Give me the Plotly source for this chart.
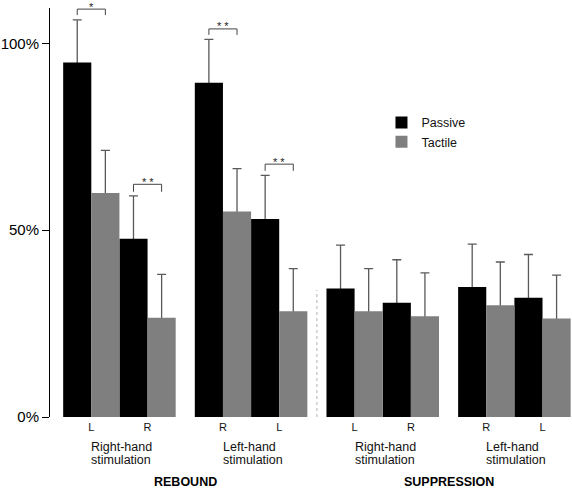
import plotly.graph_objects as go

# ---- data ----
side_labels = ["L", "R", "R", "L", "L", "R", "R", "L"]
group_line1 = ["Right-hand", "Left-hand", "Right-hand", "Left-hand"]
group_line2 = ["stimulation", "stimulation", "stimulation", "stimulation"]
section_labels = ["REBOUND", "SUPPRESSION"]

passive = [94.9, 47.7, 89.5, 53.0, 34.4, 30.6, 34.8, 31.9]
passive_err = [11.4, 11.5, 11.6, 11.7, 11.6, 11.5, 11.5, 11.6]
tactile = [60.0, 26.6, 55.0, 28.3, 28.3, 27.0, 29.9, 26.4]
tactile_err = [11.4, 11.6, 11.5, 11.4, 11.4, 11.6, 11.6, 11.6]

# significance brackets: (pair index, leg bottom %, bracket top %, label)
sig_pairs = [0, 1, 2, 3]
sig_low = [107.6, 60.3, 102.3, 65.9]
sig_high = [109.2, 62.3, 103.9, 67.7]
sig_text = ["*", "* *", "* *", "* *"]

separator_top = 34.0

y_ticks = [0, 50, 100]
y_tick_text = ["0%", "50%", "100%"]

# ---- layout helpers ----
GAP = 0.34
pair_x = [g * (2 + GAP) + k for g in range(4) for k in range(2)]
group_center = [g * (2 + GAP) + 0.5 for g in range(4)]

FONT = "Arial, Liberation Sans, sans-serif"
ERR_COLOR = "#5a5a5a"
BAR_W = 0.5

fig = go.Figure()
# error-bar carriers (drawn first, bars overlay their lower part)
for vals, errs, off in [(passive, passive_err, -BAR_W), (tactile, tactile_err, 0.0)]:
    fig.add_trace(go.Bar(
        x=pair_x, y=vals, width=BAR_W, offset=off, showlegend=False, hoverinfo="skip",
        marker=dict(color="rgba(0,0,0,0)", line=dict(width=0)),
        error_y=dict(type="data", symmetric=False, array=errs, arrayminus=[0.6] * len(vals),
                     color=ERR_COLOR, thickness=1.3, width=4.5),
    ))
# visible bars
fig.add_trace(go.Bar(x=pair_x, y=passive, width=BAR_W, offset=-BAR_W, name="Passive",
                     marker=dict(color="#000000", line=dict(width=0))))
fig.add_trace(go.Bar(x=pair_x, y=tactile, width=BAR_W, offset=0.0, name="Tactile",
                     marker=dict(color="#7f7f7f", line=dict(width=0))))

shapes = []
annotations = []
for i, p in enumerate(sig_pairs):
    x0 = pair_x[p] - BAR_W / 2
    x1 = pair_x[p] + BAR_W / 2
    shapes.append(dict(type="path", xref="x", yref="y",
                       path=f"M {x0},{sig_low[i]} L {x0},{sig_high[i]} L {x1},{sig_high[i]} L {x1},{sig_low[i]}",
                       line=dict(color="#444444", width=1)))
    annotations.append(dict(x=pair_x[p], y=sig_high[i], xref="x", yref="y", text=sig_text[i],
                            showarrow=False, yanchor="middle", yshift=2.5,
                            font=dict(family=FONT, size=11, color="#222222")))

# dotted separator between rebound and suppression
sep_x = (pair_x[3] + 0.5 + pair_x[4] - 0.5) / 2
shapes.append(dict(type="line", xref="x", yref="y", x0=sep_x, x1=sep_x, y0=0, y1=separator_top,
                   line=dict(color="#b0b0b0", width=1, dash="dot")))

for g in range(4):
    annotations.append(dict(x=group_center[g], y=0, xref="x", yref="paper", text=group_line1[g],
                            showarrow=False, xanchor="left", yanchor="middle", xshift=-30, yshift=-30,
                            font=dict(family=FONT, size=12.5, color="#111111")))
    annotations.append(dict(x=group_center[g], y=0, xref="x", yref="paper", text=group_line2[g],
                            showarrow=False, xanchor="left", yanchor="middle", xshift=-30, yshift=-42.6,
                            font=dict(family=FONT, size=12.5, color="#111111")))

sec_x = [((pair_x[0] - 0.5) + (pair_x[3] + 0.5)) / 2, ((pair_x[4] - 0.5) + (pair_x[7] + 0.5)) / 2]
for s in range(2):
    annotations.append(dict(x=sec_x[s], y=0, xref="x", yref="paper", text=f"<b>{section_labels[s]}</b>",
                            showarrow=False, xanchor="center", yanchor="middle", yshift=-64.5,
                            font=dict(family=FONT, size=12.5, color="#000000")))

fig.update_layout(
    width=572, height=488,
    margin=dict(l=50, r=0, t=8, b=71, autoexpand=False),
    paper_bgcolor="white", plot_bgcolor="white",
    barmode="overlay",
    showlegend=True,
    legend=dict(x=0.635, y=0.756, xanchor="left", yanchor="top", bgcolor="rgba(0,0,0,0)",
                font=dict(family=FONT, size=12.5, color="#111111")),
    shapes=shapes, annotations=annotations,
    font=dict(family=FONT),
)
fig.update_xaxes(range=[-0.734, 8.544], tickvals=pair_x, ticktext=side_labels, ticks="",
                 showline=False, showgrid=False, zeroline=False, automargin=False,
                 ticklabelstandoff=2,
                 tickfont=dict(family=FONT, size=11, color="#111111"))
fig.update_yaxes(range=[0, 109.5], tickvals=y_ticks, ticktext=y_tick_text, ticks="outside", ticklen=7,
                 tickcolor="#000000", showline=True, linecolor="#000000", linewidth=1,
                 showgrid=False, zeroline=False, automargin=False,
                 tickfont=dict(family=FONT, size=15, color="#000000"))

fig.write_html("out.html", config={"displayModeBar": False},
               post_script="document.body.style.margin='0px';")
